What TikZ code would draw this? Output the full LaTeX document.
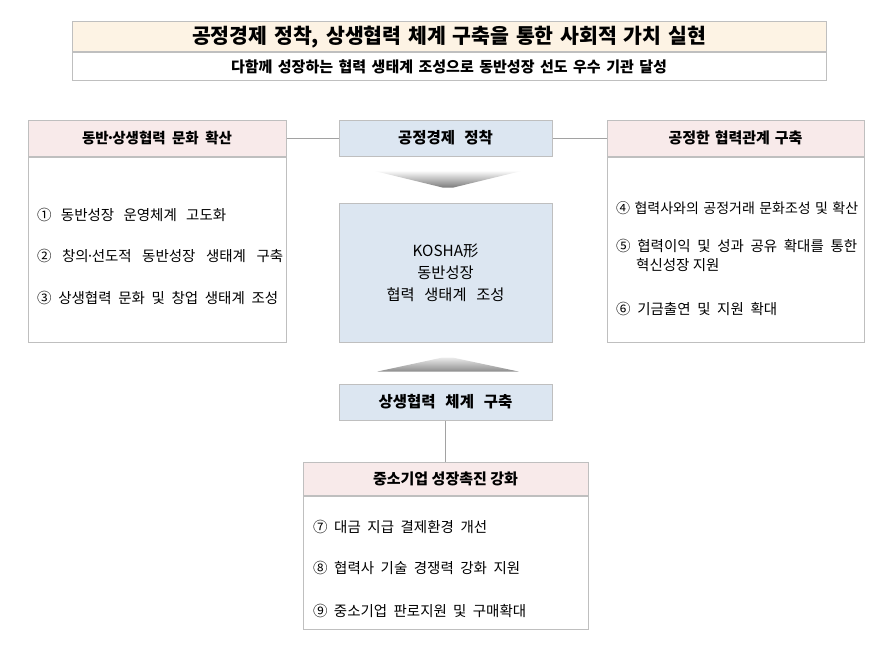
\documentclass[tikz,border=0pt]{standalone}
\usepackage{fontspec}
\setmainfont{Noto Sans CJK KR}
\usetikzlibrary{positioning,calc}
\definecolor{cream}{RGB}{253,243,228}
\definecolor{pinkhead}{RGB}{248,234,234}
\definecolor{bluebox}{RGB}{220,230,241}
\definecolor{edge}{RGB}{191,191,191}
% spread a line to a given width
\newcommand{\spread}[2]{\makebox[#1pt][s]{#2}}
\newcommand{\mdot}{\kern-.18em·\kern-.18em}

\begin{document}
\begin{tikzpicture}[x=1pt,y=-1pt,
    box/.style={draw=edge,line width=1pt,inner sep=0pt,align=center},
    headbox/.style={box,fill=pinkhead,font=\fontsize{15}{18}\selectfont\bfseries},
    bodybox/.style={box,fill=white},
    centbox/.style={box,fill=bluebox,font=\fontsize{15.5}{18}\selectfont\bfseries},
    item/.style={anchor=west,inner sep=0pt,align=left,font=\fontsize{14.5}{19}\selectfont},
    link/.style={draw=edge!85!black,line width=0.8pt}]
    \useasboundingbox (0,0) rectangle (890,661);

    % title
    \node[box,fill=cream,minimum width=754pt,minimum height=30pt,font=\fontsize{20.5}{22}\selectfont\bfseries] (title) at (449,37) {\spread{514}{공정경제 정착, 상생협력 체계 구축을 통한 사회적 가치 실현}};
    \node[box,fill=white,minimum width=754pt,minimum height=27pt,font=\fontsize{15}{17}\selectfont\bfseries,anchor=north] (subtitle) at (title.south) {\spread{436}{다함께 성장하는 협력 생태계 조성으로 동반성장 선도 우수 기관 달성}};

    % left side
    \node[headbox,minimum width=258pt,minimum height=36pt,font=\fontsize{14.5}{18}\selectfont\bfseries] (lhead) at (157,138) {\spread{150}{동반\mdot 상생협력 문화 확산}};
    \node[bodybox,minimum width=258pt,minimum height=185pt,anchor=north] (lbody) at (lhead.south) {};
    \node[item] (l1) at (37,215) {\spread{189}{① 동반성장 운영체계 고도화}};
    \node[item] (l2) at (37,256) {\spread{246}{② 창의\mdot 선도적 동반성장 생태계 구축}};
    \node[item] (l3) at (37,298) {\spread{241}{③ 상생협력 문화 및 창업 생태계 조성}};

    % right side
    \node[headbox,minimum width=257pt,minimum height=36pt] (rhead) at (735.5,138) {\spread{134}{공정한 협력관계 구축}};
    \node[bodybox,minimum width=257pt,minimum height=185pt,anchor=north] (rbody) at (rhead.south) {};
    \node[item,font=\fontsize{14}{19}\selectfont] (r4) at (616,208) {\spread{242}{④ 협력사와의 공정거래 문화조성 및 확산}};
    \node[item,anchor=north west] (r5) at (616,239) {\spread{241}{⑤ 협력이익 및 성과 공유 확대를 통한}\\\hspace*{20pt}혁신성장 지원};
    \node[item] (r6) at (616,309) {\spread{161}{⑥ 기금출연 및 지원 확대}};

    % center column
    \node[centbox,minimum width=213pt,minimum height=36pt] (ctop) at (445.5,138) {\spread{95}{공정경제 정착}};
    \node[box,fill=bluebox,minimum width=213pt,minimum height=139pt,font=\fontsize{15.3}{22}\selectfont] (cmid) at (445.5,272.5) {KOSHA形\\동반성장\\\spread{118}{협력 생태계 조성}};
    \node[centbox,minimum width=213pt,minimum height=36pt] (cbot) at (445.5,402) {\spread{134}{상생협력 체계 구축}};

    \draw[link] (lhead.east) -- (ctop.west);
    \draw[link] (ctop.east) -- (rhead.west);

    % chevrons
    \shade[top color=white,bottom color=black!52] ($(ctop.south)+(-73,14)$) -- ($(ctop.south)+(78,14)$) -- ($(ctop.south)+(8,31)$) -- ($(ctop.south)+(-3,31)$) -- cycle;
    \shade[top color=black!8,bottom color=black!45] ($(cmid.south)+(-3,15)$) -- ($(cmid.south)+(7,15)$) -- ($(cmid.south)+(73,29)$) -- ($(cmid.south)+(-68,29)$) -- cycle;

    % bottom
    \node[headbox,minimum width=285pt,minimum height=33pt] (bhead) at (445.5,478.5) {\spread{145}{중소기업 성장촉진 강화}};
    \node[bodybox,minimum width=285pt,minimum height=133pt,anchor=north] (bbody) at (bhead.south) {};
    \node[item] (b7) at (313,527) {\spread{174}{⑦ 대금 지급 결제환경 개선}};
    \node[item] (b8) at (313,568) {\spread{207}{⑧ 협력사 기술 경쟁력 강화 지원}};
    \node[item] (b9) at (313,611) {\spread{213}{⑨ 중소기업 판로지원 및 구매확대}};

    \draw[link] (cbot.south) -- (bhead.north);
\end{tikzpicture}
\end{document}
